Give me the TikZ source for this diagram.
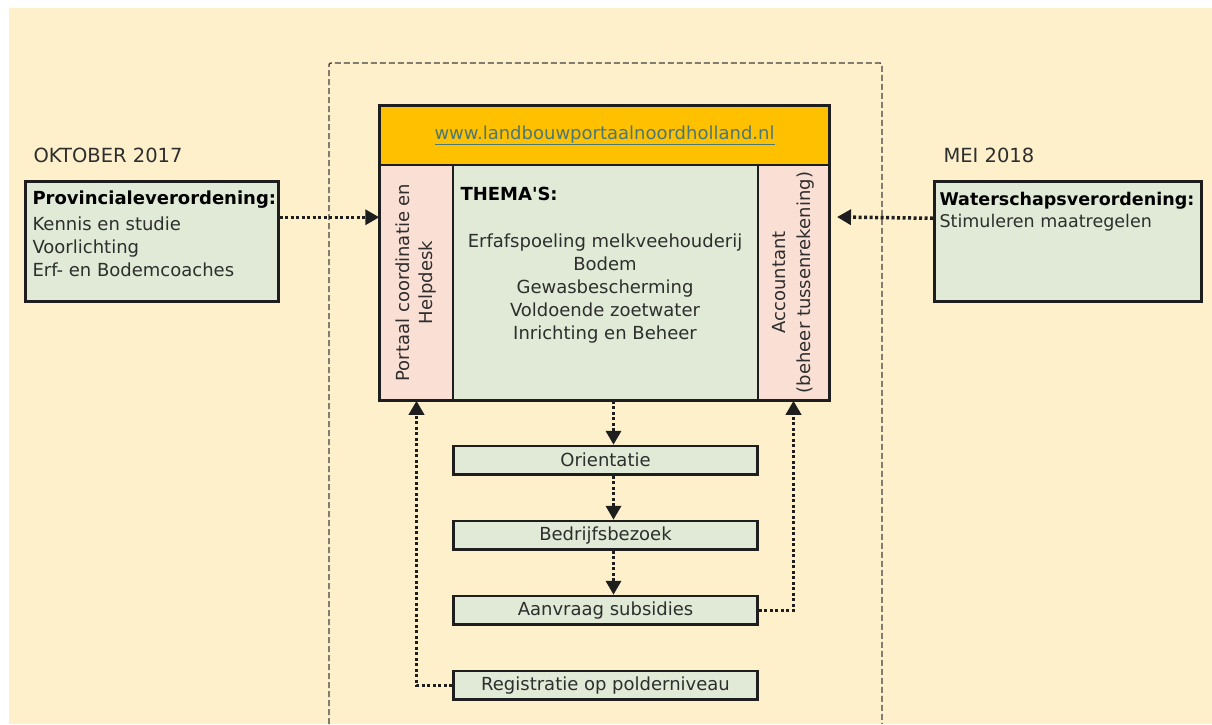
\documentclass[tikz,border=0pt]{standalone}
\usepackage{fontspec}
\setmainfont{DejaVu Sans}[Ligatures=TeXOff]
\usetikzlibrary{arrows.meta,positioning}
\definecolor{cream}{HTML}{FDF0CA}
\definecolor{gold}{HTML}{FFC000}
\definecolor{mint}{HTML}{E0EAD6}
\definecolor{blush}{HTML}{FADFD5}
\definecolor{ink}{HTML}{1E1E1E}
\definecolor{txt}{HTML}{2E2E2E}
\definecolor{linkc}{HTML}{4A7874}

\tikzset{
  box/.style={draw=ink, line width=2.5pt, fill=mint, inner sep=0pt},
  flowbox/.style={box, minimum width=304pt, minimum height=28.5pt, text=txt},
  col/.style={draw=ink, line width=1.5pt, inner sep=0pt, text=txt},
  dotarrow/.style={draw=ink, line width=3.5pt, dash pattern=on 3pt off 2.5pt,
    -{Triangle[width=15pt,length=14pt]}},
  frame/.style={draw=ink!85, line width=1.4pt, dash pattern=on 6pt off 3pt},
}

\begin{document}
\begin{tikzpicture}[x=1pt, y=-1pt, font=\fontsize{18}{23}\selectfont]
  \useasboundingbox (0,0) rectangle (1212,724);
  \fill[cream] (9,8) rectangle (1212,724);
  \draw[frame, rounded corners=2pt] (329,724) -- (329,63) -- (882,63) -- (882,724);

  % portal block
  \node[col, fill=gold, minimum width=449pt, minimum height=59pt] (site) at (604.5,135.5)
    {\color{linkc}\underline{www.landbouwportaalnoordholland.nl}};
  \node[col, fill=blush, rotate=90, minimum width=235pt, minimum height=73pt, align=center] (portaal)
    at (416.5,282.5) {Portaal coordinatie en\\Helpdesk};
  \node[col, fill=mint, minimum width=305pt, minimum height=235pt] (thema) at (605.5,282.5) {};
  \node[col, fill=blush, rotate=90, minimum width=235pt, minimum height=71pt, align=center,
    font=\fontsize{18}{25}\selectfont] (account) at (793.5,282.5) {Accountant\\(beheer tussenrekening)};
  \draw[draw=ink, line width=3pt] (site.north west) rectangle (thema.south -| site.east);
  \node[anchor=west, font=\fontsize{18}{23}\bfseries, text=black] (themakop) at (457,194) {THEMA'S:};
  \node[align=center, text=txt] (themas) at (605,289)
    {Erfafspoeling melkveehouderij\\Bodem\\Gewasbescherming\\Voldoende zoetwater\\Inrichting en Beheer};

  % regulations
  \node[anchor=west, text=txt, font=\fontsize{19.5}{23}\selectfont] (okt) at (30,155) {OKTOBER 2017};
  \node[anchor=west, text=txt, font=\fontsize{19.5}{23}\selectfont] (mei) at (940,155) {MEI 2018};
  \node[box, anchor=north west, minimum width=253pt, minimum height=120pt] (prov) at (24,180) {};
  \node[anchor=north west, align=left, text=txt] (provtxt) at ([xshift=5pt,yshift=-7pt]prov.north west)
    {\textbf{\color{black}Provincialeverordening:}\\[3pt]Kennis en studie\\Voorlichting\\Erf- en Bodemcoaches};
  \node[box, anchor=north west, minimum width=267pt, minimum height=120pt] (water) at (933,180) {};
  \node[anchor=north west, align=left, text=txt, font=\fontsize{17.5}{23}\selectfont] (watertxt)
    at ([xshift=3pt,yshift=-9pt]water.north west)
    {\textbf{\color{black}Waterschapsverordening:}\\[-1pt]Stimuleren maatregelen};
  \coordinate (wtip) at (837,217);
  \draw[dotarrow] ([yshift=24pt]prov.east) -- ([yshift=24pt]prov.east -| site.west);
  \draw[dotarrow] ([yshift=23pt]water.west) -- (wtip);

  % steps
  \node[flowbox, below=44pt of thema] (orient) {Orientatie};
  \node[flowbox, below=44pt of orient] (bezoek) {Bedrijfsbezoek};
  \node[flowbox, below=44pt of bezoek] (aanvraag) {Aanvraag subsidies};
  \node[flowbox, below=44pt of aanvraag] (registratie) {Registratie op polderniveau};
  \draw[dotarrow] ([xshift=8pt]thema.south) -- ([xshift=8pt]orient.north);
  \draw[dotarrow] ([xshift=8pt]orient.south) -- ([xshift=8pt]bezoek.north);
  \draw[dotarrow] ([xshift=8pt]bezoek.south) -- ([xshift=8pt]aanvraag.north);
  \draw[dotarrow] (aanvraag.east) -| (account.center |- thema.south);
  \draw[dotarrow] (registratie.west) -| (portaal.center |- thema.south);
\end{tikzpicture}
\end{document}
